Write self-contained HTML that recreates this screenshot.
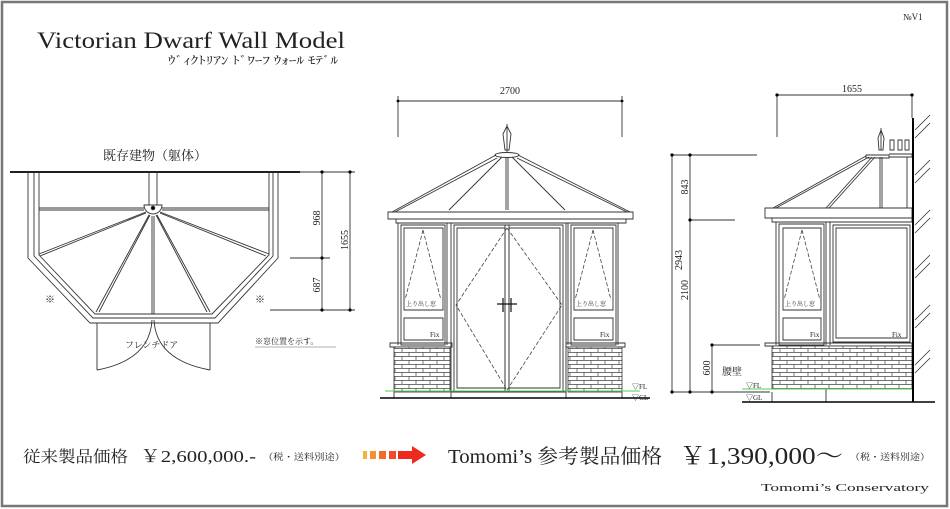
<!DOCTYPE html>
<html><head><meta charset="utf-8"><style>
html,body{margin:0;padding:0;background:#fff}
svg{display:block}
text{font-family:"Liberation Serif","Noto Serif CJK SC",serif;fill:#222}
.j{font-family:"Liberation Serif","Noto Serif CJK SC","Noto Sans CJK JP",serif}
</style></head><body>
<svg width="950" height="509" viewBox="0 0 950 509" xmlns="http://www.w3.org/2000/svg">
<defs>
<pattern id="br" width="14" height="8" patternUnits="userSpaceOnUse">
<rect width="14" height="8" fill="#fff"/>
<path d="M0 0.5H14M0 4.5H14M3 0.5V4.5M10 4.5V8" stroke="#444" stroke-width="0.7" fill="none"/>
</pattern>
</defs>
<rect x="2" y="2" width="945" height="504" fill="#fff" stroke="#777" stroke-width="2.5"/>
<text x="37" y="48" font-size="23" textLength="308" lengthAdjust="spacingAndGlyphs">Victorian Dwarf Wall Model</text>
<text x="168" y="64" font-size="11" class="j" textLength="170" lengthAdjust="spacingAndGlyphs">ｳﾞｨｸﾄﾘｱﾝ ﾄﾞﾜｰﾌ ｳｫｰﾙ ﾓﾃﾞﾙ</text>
<text x="903" y="20" font-size="9">№V1</text>

<!-- PLAN -->
<text x="155" y="160" font-size="13" text-anchor="middle" class="j">既存建物（躯体）</text>
<g fill="none" stroke="#333" stroke-width="0.9">
<line x1="10" y1="172" x2="300" y2="172" stroke="#000" stroke-width="1.8"/>
<path d="M28 172V258L90 323H218L278 258V172"/>
<path d="M34 172V256L93 318H215L273 256V172"/>
<path d="M39 172V255L95 314H212L269 255V172"/>
<path d="M149 172V205M157 172V205"/>
<path d="M39 208H144M162 208H269M39 210H144M162 210H269"/>
<path d="M144 205A9 9 0 0 0 162 205Z" fill="#fff"/>
<circle cx="153" cy="208" r="1.8" fill="#000"/>
<path d="M146 212L39 254M160 212L269 254M149 215L96 312M157 215L210 312M152 216V314M154 216V314"/>
<path d="M40 256L146 213M266 256L160 213M99 312L150 215M207 312L156 215"/>
<path d="M97 323V370M210 323V370"/>
<path d="M97 370Q150 360 152 320M210 370Q156 360 154 320"/>
<path d="M300 172H355M290 258H330M270 310H355M322 172V310M350 172V310"/>
</g>
<g fill="#000"><circle cx="322" cy="172" r="1.6"/><circle cx="350" cy="172" r="1.6"/><circle cx="322" cy="258" r="1.6"/><circle cx="322" cy="310" r="1.6"/><circle cx="350" cy="310" r="1.6"/></g>
<text transform="translate(320,218) rotate(-90)" font-size="10" text-anchor="middle">968</text>
<text transform="translate(320,285) rotate(-90)" font-size="10" text-anchor="middle">687</text>
<text transform="translate(348,240) rotate(-90)" font-size="10" text-anchor="middle">1655</text>
<text x="45" y="303" font-size="10" class="j">※</text>
<text x="255" y="303" font-size="10" class="j">※</text>
<text x="125" y="348" font-size="9" class="j">フレンチドア</text>
<text x="255" y="344" font-size="8" class="j">※窓位置を示す。</text>
<line x1="255" y1="347" x2="336" y2="347" stroke="#666" stroke-width="0.6"/>

<!-- FRONT -->
<g fill="none" stroke="#333" stroke-width="0.9">
<path d="M398 96V137M622 96V137M398 101H622"/>
<path d="M507 124V152M503 134L507 126L511 134L509 150H505Z"/>
<ellipse cx="507" cy="155" rx="12" ry="2.5"/>
<path d="M496 155L392 212M518 155L630 212M497 158L395 212M517 158L627 212"/>
<path d="M502 157L449 210M512 157L565 210M506 157V210M508 157V210"/>
<path d="M388 212H633V219H388ZM396 219H626V223H396Z"/>
<path d="M398 223V345M447 223V345M404 228H443V310H404ZM401 225H445V345H401Z"/>
<path d="M404 318H443V340H404Z"/>
<path d="M568 223V345M618 223V345M574 228H613V310H574ZM571 225H616V345H571Z"/>
<path d="M574 318H613V340H574Z"/>
<path d="M451 223V398M566 223V398M454 225H563V392H454Z"/>
<path d="M457 228H505V388H457ZM509 228H560V388H509Z"/>
<path d="M505 225V392M509 225V392"/>
<path d="M390 343H452V347H390ZM566 343H625V347H566Z"/>
<path d="M394 392V398M622 392V398M451 392H566"/>
</g>
<g fill="none" stroke="#444" stroke-width="0.8" stroke-dasharray="4 2">
<path d="M507 228L456 305L507 390M507 228L562 305L507 390"/>
<path d="M423 230L405 300M423 230L441 300M593 230L575 300M593 230L611 300"/>
</g>
<path d="M497 304H517M503 298V312M511 298V312" stroke="#111" stroke-width="1.2"/>
<rect x="394" y="347" width="56" height="45" fill="url(#br)" stroke="#333" stroke-width="0.8"/>
<rect x="568" y="347" width="54" height="45" fill="url(#br)" stroke="#333" stroke-width="0.8"/>
<line x1="385" y1="391" x2="640" y2="391" stroke="#5c5" stroke-width="1"/>
<line x1="380" y1="398" x2="650" y2="398" stroke="#000" stroke-width="1.6"/>
<text x="510" y="94" font-size="10" text-anchor="middle">2700</text>
<text x="406" y="306" font-size="6" class="j">上り出し窓</text>
<text x="576" y="306" font-size="6" class="j">上り出し窓</text>
<text x="430" y="337" font-size="7">Fix</text>
<text x="600" y="337" font-size="7">Fix</text>
<text x="632" y="389" font-size="7">▽FL</text>
<text x="632" y="400" font-size="7">▽GL</text>

<!-- SIDE -->
<g fill="none" stroke="#333" stroke-width="0.9">
<path d="M777 96V137M912 96V118M777 95H912"/>
<path d="M672 155H757M690 220H735M712 345H760M672 392H770M672 155V392M690 155V392M712 345V392"/>
<path d="M866 155H889V158H866Z M889 154H912V157H889"/>
<path d="M866 156L773 208M869 157L776 208M872 157L826 208M875 157L829 208"/>
<path d="M880 157V208M882 157V208M907 157V208"/>
<path d="M881 128V150M878 138L881 130L884 138L883 150H879Z"/>
<path d="M890 140h4v10h-4zM898 140h4v10h-4zM905 140h4v10h-4z"/>
<path d="M765 208H912V218H765ZM772 218H912V222H772Z"/>
<path d="M776 222V345M826 222V345M779 224H824V345H779ZM783 228H821V310H783ZM783 318H821V340H783Z"/>
<path d="M830 222V345M833 225H910V342H833ZM836 228H907V338H836Z"/>
<path d="M765 343H912V346H765Z"/>
<path d="M772 392V402M826 346V402"/>
</g>
<path d="M802 230L784 300M802 230L820 300" fill="none" stroke="#444" stroke-width="0.8" stroke-dasharray="4 2"/>
<rect x="772" y="346" width="140" height="43" fill="url(#br)" stroke="#333" stroke-width="0.8"/>
<line x1="742" y1="389" x2="912" y2="389" stroke="#5c5" stroke-width="1"/>
<line x1="913" y1="118" x2="913" y2="402" stroke="#000" stroke-width="2"/>
<g stroke="#333" stroke-width="0.8">
<path d="M915 130L930 115M915 138L930 123M915 175L930 160M915 183L930 168M915 225L930 210M915 233L930 218M915 270L930 255M915 278L930 263M915 320L930 305M915 328L930 313M915 365L930 350M915 373L930 358"/>
</g>
<line x1="742" y1="402" x2="935" y2="402" stroke="#000" stroke-width="1.6"/>
<g fill="#000"><circle cx="777" cy="95" r="1.6"/><circle cx="912" cy="95" r="1.6"/><circle cx="672" cy="155" r="1.6"/><circle cx="690" cy="155" r="1.6"/><circle cx="690" cy="220" r="1.6"/><circle cx="712" cy="345" r="1.6"/><circle cx="672" cy="392" r="1.6"/><circle cx="690" cy="392" r="1.6"/><circle cx="712" cy="392" r="1.6"/><circle cx="398" cy="101" r="1.4"/><circle cx="622" cy="101" r="1.4"/></g>
<text x="852" y="92" font-size="10" text-anchor="middle">1655</text>
<text transform="translate(682,260) rotate(-90)" font-size="10" text-anchor="middle">2943</text>
<text transform="translate(688,187) rotate(-90)" font-size="10" text-anchor="middle">843</text>
<text transform="translate(688,290) rotate(-90)" font-size="10" text-anchor="middle">2100</text>
<text transform="translate(710,368) rotate(-90)" font-size="10" text-anchor="middle">600</text>
<text x="722" y="375" font-size="10" class="j">腰壁</text>
<text x="785" y="306" font-size="6" class="j">上り出し窓</text>
<text x="810" y="337" font-size="7">Fix</text>
<text x="892" y="337" font-size="7">Fix</text>
<text x="746" y="388" font-size="7">▽FL</text>
<text x="746" y="400" font-size="7">▽GL</text>

<!-- PRICES -->
<text x="23" y="462" font-size="16" class="j" textLength="105" lengthAdjust="spacingAndGlyphs">従来製品価格</text>
<text x="140" y="462" font-size="17" textLength="116" lengthAdjust="spacingAndGlyphs">￥2,600,000.-</text>
<text x="263" y="460" font-size="9" class="j" textLength="82" lengthAdjust="spacingAndGlyphs">（税・送料別途）</text>
<g>
<rect x="363" y="451" width="4" height="8" fill="#f7b23a"/>
<rect x="370" y="451" width="6" height="8" fill="#f79030"/>
<rect x="379" y="451" width="7" height="8" fill="#f56a28"/>
<rect x="389" y="451" width="7" height="8" fill="#f24a22"/>
<path d="M398 451H412V446L426 455L412 464V459H398Z" fill="#ee2a1c"/>
</g>
<text x="448" y="463" font-size="20" class="j" textLength="214" lengthAdjust="spacingAndGlyphs">Tomomi’s 参考製品価格</text>
<text x="679" y="464" font-size="24" textLength="164" lengthAdjust="spacingAndGlyphs">￥1,390,000～</text>
<text x="850" y="460" font-size="9" class="j" textLength="80" lengthAdjust="spacingAndGlyphs">（税・送料別途）</text>
<text x="761" y="491" font-size="11" textLength="168" lengthAdjust="spacingAndGlyphs">Tomomi’s  Conservatory</text>
</svg>
</body></html>
